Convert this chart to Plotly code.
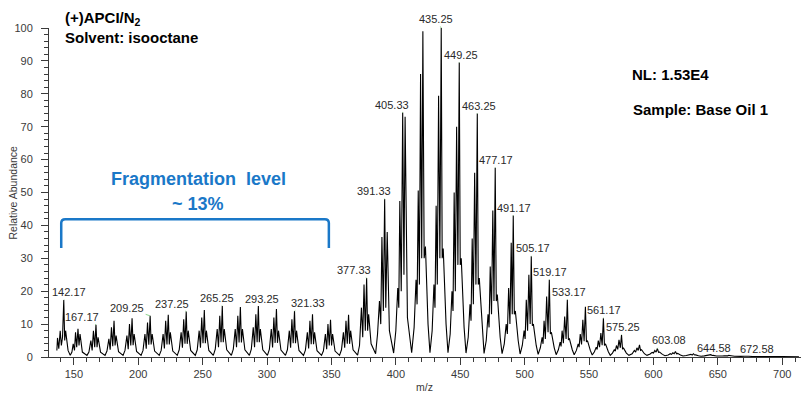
import plotly.graph_objects as go

# ---------------- data ----------------
# profile of the spectrum, low m/z region (fragment clusters)
mz_low = [
    136.8, 137.3, 138.3, 139.4, 140.3, 141.2, 142.17, 142.9, 143.6, 145.5,
    147.2, 148.5, 149.5, 150.5, 151.3, 152.2, 153.2, 154.0, 154.8, 156.6,
    160.2, 161.7, 163.2, 164.2, 165.2, 166.2, 167.17, 168.0, 168.8, 170.7,
    174.2, 175.7, 177.2, 178.2, 179.2, 180.2, 181.2, 182.0, 182.8, 184.7,
    188.2, 189.7, 191.2, 192.2, 193.2, 194.2, 195.2, 196.0, 196.8, 198.7,
    202.2, 203.7, 205.2, 206.2, 207.2, 208.2, 209.25, 210.0, 210.8, 212.7,
    216.3, 217.8, 219.3, 220.3, 221.3, 222.3, 223.3, 224.1, 224.9, 226.8,
    230.3, 231.8, 233.3, 234.3, 235.3, 236.3, 237.25, 238.0, 238.8, 240.7,
    244.3, 245.8, 247.3, 248.3, 249.3, 250.3, 251.3, 252.1, 252.9, 254.8,
    258.3, 259.8, 261.3, 262.3, 263.3, 264.3, 265.25, 266.0, 266.8, 268.7,
    272.3, 273.8, 275.3, 276.3, 277.3, 278.3, 279.3, 280.1, 280.9, 282.8,
    286.3, 287.8, 289.3, 290.3, 291.3, 292.3, 293.25, 294.0, 294.8, 296.7,
    300.3, 301.8, 303.3, 304.3, 305.3, 306.3, 307.3, 308.1, 308.9, 310.8,
    314.3, 315.8, 317.3, 318.3, 319.3, 320.3, 321.33, 322.1, 322.9, 324.8,
    328.3, 329.8, 331.3, 332.3, 333.3, 334.3, 335.3, 336.1, 336.9, 338.8,
    342.3, 343.8, 345.3, 346.3, 347.3, 348.3, 349.3, 350.1, 350.9, 352.8,
    356.3, 357.8, 359.3, 360.3, 361.3, 362.3, 363.3, 364.1, 364.9, 366.8,
]
ab_low = [
    2.0, 5.8, 2.5, 8.0, 3.5, 6.0, 17.3, 5.0, 8.0, 2.0,
    0.5, 1.5, 4.0, 2.0, 7.5, 3.0, 8.6, 3.5, 7.0, 1.5,
    0.5, 1.5, 5.0, 2.0, 8.0, 3.0, 9.8, 3.0, 6.0, 1.5,
    0.5, 1.8, 5.5, 2.2, 9.0, 3.3, 11.0, 3.5, 6.5, 1.6,
    0.5, 2.0, 6.5, 2.4, 10.0, 3.5, 11.8, 3.6, 7.0, 1.7,
    0.5, 2.0, 7.0, 2.5, 10.5, 3.7, 12.5, 3.8, 7.0, 1.8,
    0.5, 2.0, 7.0, 2.6, 11.0, 3.8, 12.8, 3.8, 7.5, 1.8,
    0.5, 2.2, 7.5, 2.8, 11.5, 4.0, 13.8, 4.0, 8.0, 2.0,
    0.5, 2.2, 8.0, 2.8, 12.0, 4.2, 14.3, 4.2, 8.0, 2.0,
    0.5, 2.4, 8.5, 3.0, 12.5, 4.5, 15.5, 4.5, 8.5, 2.2,
    0.5, 2.4, 8.5, 3.0, 12.5, 4.4, 15.2, 4.4, 8.5, 2.2,
    0.5, 2.4, 9.0, 3.0, 13.0, 4.5, 15.5, 4.5, 8.5, 2.2,
    0.5, 2.3, 8.5, 2.9, 12.0, 4.3, 14.6, 4.3, 8.0, 2.1,
    0.5, 2.2, 8.0, 2.8, 11.5, 4.2, 14.0, 4.2, 8.0, 2.0,
    0.5, 2.1, 7.5, 2.6, 11.0, 3.9, 13.0, 3.9, 7.5, 1.9,
    0.5, 1.9, 7.0, 2.4, 10.0, 3.5, 11.3, 3.5, 7.0, 1.8,
    0.5, 2.2, 7.5, 2.8, 11.0, 4.0, 12.8, 4.0, 8.0, 2.2,
]

# profile, main envelope region
mz_mid = [
    370.3, 371.8, 373.3, 374.3, 375.3, 376.3, 377.33, 378.1, 378.9, 380.8,
    384.3, 385.8, 387.3, 388.3, 389.2, 390.3, 391.33, 392.2, 393.3, 395.0,
    398.3, 400.0, 401.5, 402.3, 403.1, 404.2, 405.33, 406.3, 407.2, 409.0,
    412.3, 414.2, 415.7, 416.5, 417.4, 418.3, 419.2, 420.1, 421.0, 422.0, 423.0, 425.0,
    426.5, 428.2, 429.6, 430.4, 431.3, 432.2, 433.2, 434.2, 435.25, 436.0, 436.8, 439.0,
    440.5, 442.2, 443.6, 444.4, 445.3, 446.2, 447.2, 448.2, 449.25, 450.0, 450.8, 453.0,
    454.5, 456.2, 457.6, 458.4, 459.3, 460.2, 461.2, 462.2, 463.25, 464.0, 464.8, 467.0,
    468.5, 470.2, 471.6, 472.4, 473.3, 474.3, 475.3, 476.2, 477.17, 478.0, 478.8, 481.0,
    482.5, 484.2, 485.7, 486.6, 487.6, 488.6, 489.6, 490.4, 491.17, 492.0, 492.8, 495.0,
    496.5, 498.2, 499.6, 500.4, 501.3, 502.3, 503.3, 504.3, 505.17, 506.0, 506.8, 509.0,
]
ab_mid = [
    0.6, 3.5, 15.0, 6.0, 22.0, 8.0, 24.0, 8.0, 13.0, 4.0,
    1.0, 7.0, 17.0, 10.0, 36.5, 14.0, 48.0, 15.0, 38.0, 8.0,
    1.2, 8.0, 21.0, 15.0, 47.4, 20.0, 74.3, 25.0, 73.0, 12.0,
    1.3, 9.0, 23.5, 16.0, 50.6, 22.0, 86.0, 30.0, 99.0, 30.0, 33.6, 10.0,
    1.3, 8.0, 22.0, 15.0, 46.0, 22.0, 79.4, 30.0, 100.0, 30.0, 33.0, 10.0,
    1.3, 7.0, 20.0, 14.0, 50.0, 20.0, 70.0, 28.0, 89.5, 28.0, 30.0, 9.0,
    1.2, 6.0, 16.0, 11.0, 36.0, 16.0, 56.0, 22.0, 74.0, 22.0, 24.0, 8.0,
    1.1, 5.0, 13.0, 9.0, 27.5, 13.0, 44.5, 17.0, 57.5, 17.0, 19.0, 6.0,
    1.0, 4.0, 10.0, 7.0, 21.0, 10.0, 34.7, 13.0, 43.0, 13.0, 14.0, 5.0,
    0.9, 3.5, 8.0, 5.5, 17.4, 8.0, 25.0, 10.0, 30.6, 9.5, 10.0, 3.5,
]

# profile, high m/z tail
mz_high = [
    510.5, 512.2, 513.6, 514.3, 515.1, 516.1, 517.1, 518.2, 519.17, 520.0, 520.8, 523.0,
    524.5, 526.2, 527.6, 528.3, 529.1, 530.1, 531.1, 532.2, 533.17, 534.0, 534.8, 537.0,
    538.5, 540.2, 541.6, 542.3, 543.2, 544.2, 545.2, 546.2, 547.2, 548.0, 548.8, 551.0,
    552.5, 554.2, 555.6, 556.3, 557.2, 558.2, 559.2, 560.2, 561.17, 562.0, 562.8, 565.0,
    566.5, 568.2, 569.6, 570.4, 571.3, 572.3, 573.3, 574.3, 575.25, 576.0, 576.8, 579.0,
    581.0, 583.5, 585.2, 586.2, 587.2, 588.2, 589.2, 590.0, 590.8, 593.0,
    595.0, 597.5, 599.0, 600.1, 601.1, 602.1, 603.08, 604.0, 604.8, 607.0,
    609.0, 611.5, 613.1, 614.1, 615.1, 616.1, 617.1, 618.0, 618.8, 621.0,
    623.0, 625.5, 627.1, 628.1, 629.1, 630.1, 631.1, 632.0, 632.8, 635.0,
    637.0, 639.5, 641.0, 642.0, 643.0, 644.0, 644.58, 645.6, 646.4, 649.0,
    651.0, 653.5, 655.0, 656.0, 657.0, 657.8, 658.6, 659.5, 660.3, 663.0,
    665.0, 668.0, 670.5, 672.58, 674.0, 677.0,
    680.0, 686.6, 690.0, 700.0, 705.0, 713.0,
]
ab_high = [
    0.8, 2.8, 6.0, 4.0, 11.0, 5.5, 18.4, 7.5, 23.5, 7.0, 7.5, 2.8,
    0.7, 2.2, 4.5, 3.2, 8.0, 4.2, 12.3, 5.5, 17.4, 5.2, 5.5, 2.2,
    0.7, 2.0, 4.0, 3.0, 7.0, 3.8, 11.3, 4.8, 15.3, 4.6, 5.0, 2.0,
    0.6, 1.6, 3.0, 2.3, 5.0, 3.0, 7.3, 3.6, 11.8, 3.5, 4.0, 1.6,
    0.5, 1.2, 2.2, 1.8, 3.5, 2.3, 5.2, 2.8, 6.7, 2.5, 2.7, 1.2,
    0.5, 1.0, 2.0, 1.5, 2.8, 2.0, 3.7, 2.0, 2.2, 1.0,
    0.5, 0.9, 1.4, 1.2, 2.0, 1.5, 2.6, 1.4, 1.5, 0.8,
    0.4, 0.6, 1.0, 0.8, 1.3, 1.0, 1.7, 1.0, 1.1, 0.6,
    0.3, 0.45, 0.6, 0.5, 0.8, 0.6, 1.0, 0.6, 0.65, 0.4,
    0.25, 0.35, 0.45, 0.4, 0.55, 0.45, 0.7, 0.45, 0.5, 0.3,
    0.2, 0.3, 0.35, 0.3, 0.4, 0.35, 0.5, 0.35, 0.4, 0.25,
    0.15, 0.2, 0.25, 0.35, 0.25, 0.15,
    0.12, 0.2, 0.1, 0.15, 0.08, 0.05,
]

# labelled peaks (m/z values printed above the peaks)
label_mz = [142.17, 167.17, 209.25, 237.25, 265.25, 293.25, 321.33, 377.33,
            391.33, 405.33, 435.25, 449.25, 463.25, 477.17, 491.17, 505.17,
            519.17, 533.17, 561.17, 575.25, 603.08, 644.58, 672.58]

x_ticks = [150, 200, 250, 300, 350, 400, 450, 500, 550, 600, 650, 700]
y_ticks = [0, 10, 20, 30, 40, 50, 60, 70, 80, 90, 100]

# ---------------- styles ----------------
# label text offsets from peak tops (pixels)
label_ax = [5, -14, -23, -14, -5, 4, 13, -13, -11, -11, -5, 2, 1.5, 1, 1, 1.5,
            1, 2, 1, 1, 12, 3, 10]
label_ay = [-8, -8, -8, -8, -8, -7, -8, -8, -8, -8, -9, -8, -8, -8, -8, -8,
            -8, -8, -8, -8, -8, -7, -7]

FONT = "Arial, Liberation Sans, sans-serif"
BLUE = "#1a78c8"
AXC = "#3a3a3a"

mz = mz_low + mz_mid + mz_high
ab = ab_low + ab_mid + ab_high
lookup = {round(m, 2): a for m, a in zip(mz, ab)}

fig = go.Figure()
fig.add_trace(go.Scatter(x=mz, y=ab, mode="lines",
                         line=dict(color="black", width=1.1),
                         hoverinfo="skip", showlegend=False))

# plot area geometry in pixels (for paper-coordinate text placement)
L, R, T, B = 49, 1, 28, 45
W, H = 802, 402
PW, PH = W - L - R, H - T - B


def px(xp):
    return (xp - L) / PW


def py(yp):
    return (H - B - yp) / PH


annotations = []
for m, dx, dy in zip(label_mz, label_ax, label_ay):
    annotations.append(dict(
        x=m, y=lookup[round(m, 2)], xref="x", yref="y",
        text=f"{m:.2f}", showarrow=True, arrowhead=0, arrowwidth=1,
        arrowcolor="#8ed38e", standoff=0, ax=dx, ay=dy,
        font=dict(family=FONT, size=11, color="#2a2a2a")))

annotations += [
    dict(x=px(63), y=py(19), xref="paper", yref="paper", xanchor="left",
         yanchor="middle", showarrow=False, text="<b>(+)APCI/N<sub>2</sub></b>",
         font=dict(family=FONT, size=15, color="black")),
    dict(x=px(63), y=py(38), xref="paper", yref="paper", xanchor="left",
         yanchor="middle", showarrow=False, text="<b>Solvent: isooctane</b>",
         font=dict(family=FONT, size=15, color="black")),
    dict(x=px(630), y=py(74.5), xref="paper", yref="paper", xanchor="left",
         yanchor="middle", showarrow=False, text="<b>NL: 1.53E4</b>",
         font=dict(family=FONT, size=15, color="black")),
    dict(x=px(630.5), y=py(109), xref="paper", yref="paper", xanchor="left",
         yanchor="middle", showarrow=False, text="<b>Sample: Base Oil 1</b>",
         font=dict(family=FONT, size=15, color="black")),
    dict(x=px(198.3), y=py(179), xref="paper", yref="paper", xanchor="center",
         yanchor="middle", showarrow=False,
         text="<b>Fragmentation\u00a0\u00a0level</b>",
         font=dict(family=FONT, size=18, color=BLUE)),
    dict(x=px(198.3), y=py(203.5), xref="paper", yref="paper", xanchor="center",
         yanchor="middle", showarrow=False, text="<b>~ 13%</b>",
         font=dict(family=FONT, size=18, color=BLUE)),
    dict(x=px(12), y=0.5, xref="paper", yref="paper", xanchor="center",
         yanchor="middle", showarrow=False, text="Relative Abundance",
         textangle=-90, font=dict(family=FONT, size=10.5, color=AXC)),
    dict(x=px(424), y=py(387), xref="paper", yref="paper", xanchor="center",
         yanchor="middle", showarrow=False, text="m/z",
         font=dict(family=FONT, size=10.5, color=AXC)),
]

# bracket over the fragment region (data coordinates)
bx0, bx1, by0, by1 = 140.2, 348.0, 33.1, 41.9
bracket = (f"M {bx0},{by0} L {bx0},{by1 - 1.2} Q {bx0},{by1} {bx0 + 3.1},{by1} "
           f"L {bx1 - 3.1},{by1} Q {bx1},{by1} {bx1},{by1 - 1.2} L {bx1},{by0}")

fig.update_layout(
    width=W, height=H,
    margin=dict(l=L, r=R, t=T, b=B, pad=0),
    paper_bgcolor="white", plot_bgcolor="white",
    showlegend=False,
    annotations=annotations,
    shapes=[dict(type="path", path=bracket, xref="x", yref="y",
                 line=dict(color=BLUE, width=2.5))],
    xaxis=dict(range=[130.7, 714.6], tickvals=x_ticks, ticks="outside",
               ticklen=7, tickwidth=1, tickcolor=AXC, showline=True,
               linecolor=AXC, linewidth=1, showgrid=False, zeroline=False,
               tickfont=dict(family=FONT, size=11, color=AXC),
               minor=dict(dtick=10, tick0=0, ticks="outside", ticklen=4,
                          tickcolor=AXC, showgrid=False)),
    yaxis=dict(range=[0, 100], tickvals=y_ticks, ticks="outside",
               ticklen=7, tickwidth=1, tickcolor=AXC, showline=True,
               linecolor=AXC, linewidth=1, showgrid=False, zeroline=False,
               ticklabelstandoff=6,
               tickfont=dict(family=FONT, size=11, color=AXC),
               minor=dict(dtick=2, tick0=0, ticks="outside", ticklen=4,
                          tickcolor=AXC, showgrid=False)),
)

fig.write_html(
    "out.html",
    config={"displayModeBar": False},
    post_script="document.body.style.margin='0';"
                "document.body.style.overflow='hidden';")
